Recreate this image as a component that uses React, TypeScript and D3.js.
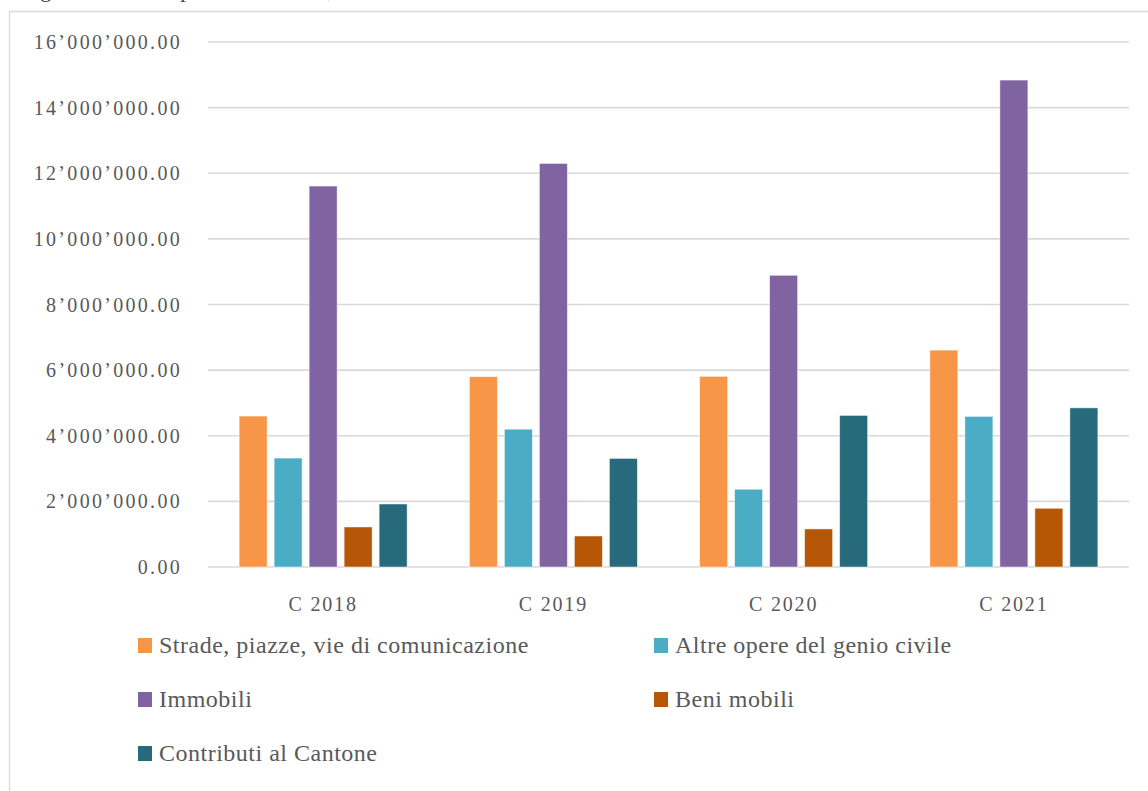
import React from "react";
import * as d3 from "d3";

const categories = ["C 2018", "C 2019", "C 2020", "C 2021"];
const seriesNames = [
  "Strade, piazze, vie di comunicazione",
  "Altre opere del genio civile",
  "Immobili",
  "Beni mobili",
  "Contributi al Cantone",
];
const seriesColors = ["#F79646", "#4BACC6", "#8064A2", "#B65708", "#276A7C"];
const strade = [4600000, 5800000, 5810000, 6610000];
const altre = [3320000, 4200000, 2370000, 4590000];
const immobili = [11610000, 12300000, 8890000, 14840000];
const beniMobili = [1220000, 945000, 1160000, 1790000];
const contributi = [1920000, 3310000, 4620000, 4850000];
const seriesValues = [strade, altre, immobili, beniMobili, contributi];
const yTicks = [0, 2000000, 4000000, 6000000, 8000000, 10000000, 12000000, 14000000, 16000000];

const W = 1148;
const H = 791;
const textColor = "#595959";
const gridColor = "#d9d9d9";

const locale = d3.formatLocale({ decimal: ".", thousands: "\u2019", grouping: [3], currency: ["", ""] });
const fmt = locale.format(",.2f");

export default function App() {
  const x0 = d3.scaleBand<string>().domain(categories).range([208, 1129]).padding(0);
  const bw = x0.bandwidth();
  const x1 = d3
    .scaleBand<number>()
    .domain(seriesNames.map((_, i) => i))
    .range([(bw - 168) / 2, (bw + 168) / 2])
    .paddingInner(0.2)
    .paddingOuter(0);
  const y = d3.scaleLinear().domain([0, 16000000]).range([567, 42]);

  const legendPos = [
    { x: 138, y: 645 },
    { x: 654, y: 645 },
    { x: 138, y: 699 },
    { x: 654, y: 699 },
    { x: 138, y: 753 },
  ];

  return (
    <svg
      width={W}
      height={H}
      style={{ position: "absolute", left: 0, top: 0, background: "#fff" }}
      fontFamily="'Liberation Serif', serif"
    >
      <rect x={0} y={0} width={W} height={H} fill="#fff" />
      <text x={22} y={-3} fontSize={22} fill="#404040">
        Figura 33: Uscite per investimento, 2018-2021
      </text>
      {/* frame */}
      <path d={`M9.5,${H + 2} V11.5 H${W + 2}`} fill="none" stroke={gridColor} strokeWidth={1.3} />
      {/* gridlines */}
      {yTicks.map((t) => (
        <g key={t}>
          <line x1={208} x2={1129} y1={y(t)} y2={y(t)} stroke={gridColor} strokeWidth={1.6} />
          <text
            x={182}
            y={y(t)}
            dy="0.35em"
            textAnchor="end"
            fontSize={20}
            letterSpacing={2.3}
            fill={textColor}
          >
            {fmt(t)}
          </text>
        </g>
      ))}
      {/* bars */}
      {categories.map((c, ci) => (
        <g key={c} transform={`translate(${x0(c)},0)`}>
          {seriesValues.map((vals, si) => (
            <rect
              key={si}
              x={x1(si)}
              y={y(vals[ci])}
              width={x1.bandwidth()}
              height={y(0) - y(vals[ci])}
              fill={seriesColors[si]}
              stroke="#ffffff"
              strokeOpacity={0.6}
              strokeWidth={0.8}
            />
          ))}
          <text
            x={bw / 2}
            y={604}
            dy="0.35em"
            textAnchor="middle"
            fontSize={20}
            letterSpacing={1.8}
            fill={textColor}
          >
            {c}
          </text>
        </g>
      ))}
      {/* legend */}
      {seriesNames.map((n, i) => (
        <g key={n} transform={`translate(${legendPos[i].x},${legendPos[i].y})`}>
          <rect x={0} y={-7} width={14} height={15} fill={seriesColors[i]} />
          <text x={21} y={0} dy="0.35em" fontSize={24} letterSpacing={0.5} fill={textColor}>
            {n}
          </text>
        </g>
      ))}
    </svg>
  );
}
